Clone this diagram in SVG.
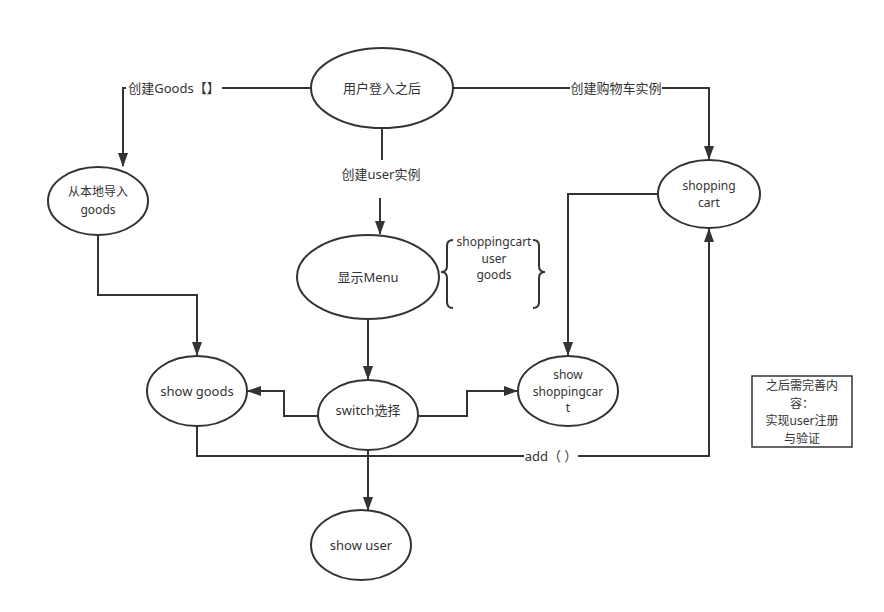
<svg xmlns="http://www.w3.org/2000/svg" width="884" height="612" viewBox="0 0 884 612">
<defs>
<marker id="arr" viewBox="0 0 14 10" refX="13" refY="5" markerWidth="14" markerHeight="10" markerUnits="userSpaceOnUse" orient="auto">
<path d="M0,0 L14,5 L0,10 Z" fill="#333"/>
</marker>
<style>
.n{fill:#fff;stroke:#333;stroke-width:2}
.t{font-family:"Noto Sans","Noto Sans CJK SC",sans-serif;font-size:13px;fill:#333;text-anchor:middle}
.m{font-size:12px}
.c{fill:none;stroke:#333;stroke-width:2}
.lb{fill:#fff}
</style>
</defs>
<rect width="884" height="612" fill="#fff"/>
<g id="connectors">
<path class="c" d="M311,88 H123 V166" marker-end="url(#arr)"/>
<path class="c" d="M453,88 H709 V159" marker-end="url(#arr)"/>
<path class="c" d="M382,128 V160"/>
<path class="c" d="M380,198 V234" marker-end="url(#arr)"/>
<path class="c" d="M98,235 V295 H197 V355" marker-end="url(#arr)"/>
<path class="c" d="M658,194 H568 V355" marker-end="url(#arr)"/>
<path class="c" d="M368,319 V379" marker-end="url(#arr)"/>
<path class="c" d="M318,416 H284 V391 H248" marker-end="url(#arr)"/>
<path class="c" d="M418,416 H467 V391 H517" marker-end="url(#arr)"/>
<path class="c" d="M197,426 V456 H709 V229" marker-end="url(#arr)"/>
<path class="c" d="M368,450 V510" marker-end="url(#arr)"/>
<rect class="lb" x="126" y="80" width="96" height="17"/>
<text class="t" x="174" y="93">创建Goods【】</text>
<rect class="lb" x="570" y="80" width="92" height="17"/>
<text class="t" x="616" y="93">创建购物车实例</text>
<text class="t" x="381" y="179">创建user实例</text>
<rect class="lb" x="524" y="448" width="54" height="17"/>
<text class="t" x="551" y="461">add（ ）</text>
</g>
<g id="login"><ellipse class="n" cx="382" cy="88" rx="71" ry="40"/><text class="t" x="382" y="93">用户登入之后</text></g>
<g id="import"><ellipse class="n" cx="98" cy="201" rx="50" ry="34"/><text class="t m" x="98" y="196">从本地导入</text><text class="t m" x="98" y="213.5">goods</text></g>
<g id="cart"><ellipse class="n" cx="709" cy="194" rx="51" ry="34"/><text class="t m" x="709" y="190">shopping</text><text class="t m" x="709" y="206.5">cart</text></g>
<g id="menu"><ellipse class="n" cx="368" cy="277" rx="71" ry="42"/><text class="t" x="368" y="282">显示Menu</text></g>
<g id="brace">
<path class="c" d="M453,240 Q447,240 447,246 V266 Q447,272 441,272 Q447,272 447,278 V302 Q447,308 453,308"/>
<path class="c" d="M533,240 Q539,240 539,246 V266 Q539,272 545,272 Q539,272 539,278 V302 Q539,308 533,308"/>
<text class="t m" x="494" y="246">shoppingcart</text>
<text class="t m" x="494" y="262.5">user</text>
<text class="t m" x="494" y="279">goods</text>
</g>
<g id="showgoods"><ellipse class="n" cx="197" cy="391" rx="50" ry="35"/><text class="t" x="197" y="396">show goods</text></g>
<g id="switch"><ellipse class="n" cx="368" cy="415" rx="50" ry="35"/><text class="t" x="368" y="415">switch选择</text></g>
<g id="showcart"><ellipse class="n" cx="568" cy="391" rx="50" ry="35"/><text class="t m" x="568" y="379">show</text><text class="t m" x="568" y="395.5">shoppingcar</text><text class="t m" x="568" y="412">t</text></g>
<g id="showuser"><ellipse class="n" cx="361" cy="545" rx="50" ry="35"/><text class="t" x="361" y="550">show user</text></g>
<g id="note"><rect x="752" y="376" width="100" height="71" fill="#fff" stroke="#333" stroke-width="1.5"/>
<text class="t m" x="802" y="390">之后需完善内</text><text class="t m" x="802" y="407.5">容：</text><text class="t m" x="802" y="425">实现user注册</text><text class="t m" x="802" y="442.5">与验证</text></g>
</svg>
